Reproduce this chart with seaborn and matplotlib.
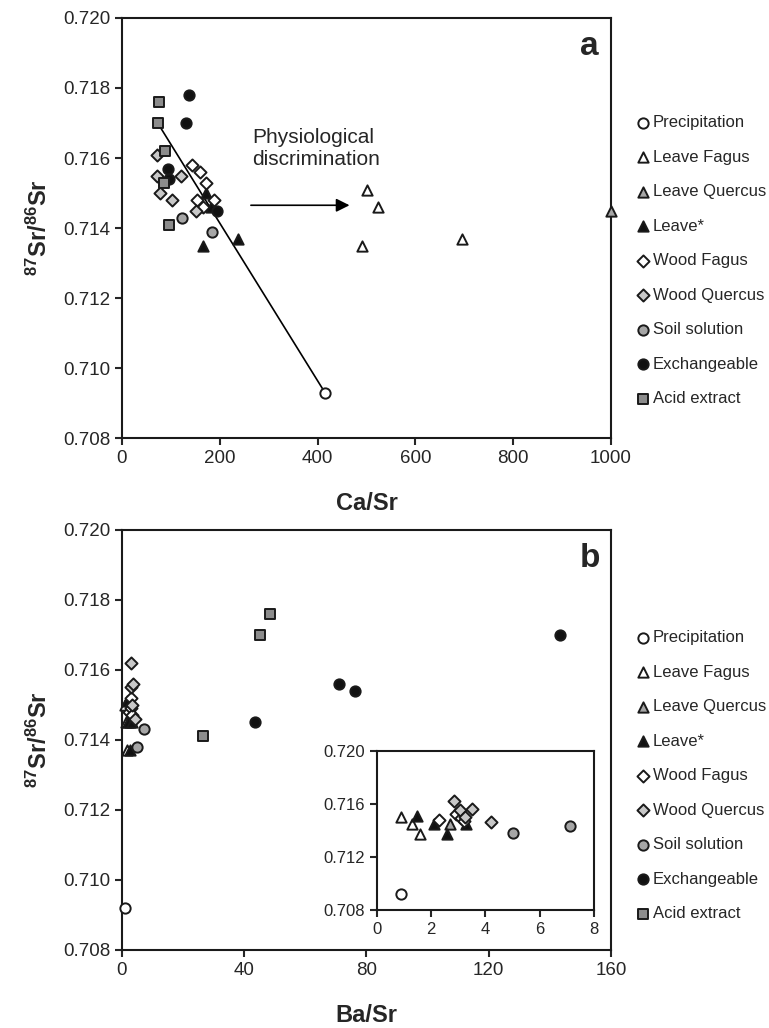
import numpy as np
import pandas as pd
import seaborn as sns
import matplotlib.pyplot as plt
import matplotlib.ticker as ticker

# ---------------- data ----------------
series_names = ["Precipitation", "Leave Fagus", "Leave Quercus", "Leave*",
                "Wood Fagus", "Wood Quercus", "Soil solution", "Exchangeable",
                "Acid extract"]

# panel a: Ca/Sr vs 87Sr/86Sr
a_precip_x = [415]
a_precip_y = [0.7093]
a_lfagus_x = [502, 523, 491, 696]
a_lfagus_y = [0.7151, 0.7146, 0.7135, 0.7137]
a_lquercus_x = [1000]
a_lquercus_y = [0.7145]
a_leaf_x = [171, 182, 166, 237]
a_leaf_y = [0.7150, 0.7146, 0.7135, 0.7137]
a_wfagus_x = [144, 160, 171, 153, 188, 166]
a_wfagus_y = [0.7158, 0.7156, 0.7153, 0.7148, 0.7148, 0.7146]
a_wquercus_x = [71, 71, 120, 78, 103, 151]
a_wquercus_y = [0.7161, 0.7155, 0.7155, 0.7150, 0.7148, 0.7145]
a_soil_x = [123, 185]
a_soil_y = [0.7143, 0.7139]
a_exch_x = [138, 131, 95, 97, 194]
a_exch_y = [0.7178, 0.7170, 0.7157, 0.7154, 0.7145]
a_acid_x = [75, 73, 88, 86, 96]
a_acid_y = [0.7176, 0.7170, 0.7162, 0.7153, 0.7141]

# mixing line between acid extract and precipitation
line_x = [73, 415]
line_y = [0.7170, 0.7093]

# panel b: Ba/Sr vs 87Sr/86Sr
b_precip_x = [0.9]
b_precip_y = [0.7092]
b_lfagus_x = [0.9, 1.3, 1.6]
b_lfagus_y = [0.7150, 0.7145, 0.7137]
b_lquercus_x = [2.7]
b_lquercus_y = [0.7145]
b_leaf_x = [1.5, 2.1, 2.6, 3.3]
b_leaf_y = [0.7151, 0.7145, 0.7137, 0.7145]
b_wfagus_x = [2.3, 2.9, 3.1, 3.2]
b_wfagus_y = [0.7148, 0.7152, 0.7149, 0.7147]
b_wquercus_x = [2.85, 3.05, 3.5, 3.25, 4.2]
b_wquercus_y = [0.7162, 0.7155, 0.7156, 0.7150, 0.7146]
b_soil_x = [7.1, 5.0]
b_soil_y = [0.7143, 0.7138]
b_exch_x = [143.2, 71.0, 76.4, 43.5]
b_exch_y = [0.7170, 0.7156, 0.7154, 0.7145]
b_acid_x = [48.4, 45.2, 26.5]
b_acid_y = [0.7176, 0.7170, 0.7141]

# ---------------- style ----------------
sns.set_style("ticks")
plt.rcParams['font.family'] = ['Liberation Sans', 'DejaVu Sans']
plt.rcParams['mathtext.fontset'] = 'custom'
plt.rcParams['mathtext.rm'] = 'Liberation Sans'
plt.rcParams['mathtext.bf'] = 'Liberation Sans:bold'
plt.rcParams['axes.linewidth'] = 1.5
plt.rcParams['xtick.major.width'] = 1.5
plt.rcParams['ytick.major.width'] = 1.5
plt.rcParams['xtick.major.size'] = 5
plt.rcParams['ytick.major.size'] = 5
plt.rcParams['xtick.direction'] = 'out'
plt.rcParams['ytick.direction'] = 'out'

EDGE = '#1a1a1a'
styles = {
    "Precipitation": dict(marker='o', color='white', s=55),
    "Leave Fagus": dict(marker='^', color='white', s=55),
    "Leave Quercus": dict(marker='^', color='#a6a6a6', s=55),
    "Leave*": dict(marker='^', color='#111111', s=55),
    "Wood Fagus": dict(marker='D', color='white', s=38),
    "Wood Quercus": dict(marker='D', color='#c8c8c8', s=38),
    "Soil solution": dict(marker='o', color='#a6a6a6', s=55),
    "Exchangeable": dict(marker='o', color='#111111', s=55),
    "Acid extract": dict(marker='s', color='#8c8c8c', s=48),
}

fig = plt.figure(figsize=(7.69, 10.28), dpi=100)
ax_a = fig.add_axes([0.1586, 0.5739, 0.6359, 0.4086])
ax_b = fig.add_axes([0.1586, 0.0759, 0.6359, 0.4086])
ax_in = fig.add_axes([0.4898, 0.1148, 0.2830, 0.1550])


def draw(ax, data, label=True):
    for name, (xs, ys) in zip(series_names, data):
        st = styles[name]
        sns.scatterplot(x=xs, y=ys, ax=ax, marker=st['marker'], color=st['color'],
                        s=st['s'], edgecolor=EDGE, linewidth=1.4,
                        label=name if label else None, clip_on=False, zorder=3)


data_a = [(a_precip_x, a_precip_y), (a_lfagus_x, a_lfagus_y),
          (a_lquercus_x, a_lquercus_y), (a_leaf_x, a_leaf_y),
          (a_wfagus_x, a_wfagus_y), (a_wquercus_x, a_wquercus_y),
          (a_soil_x, a_soil_y), (a_exch_x, a_exch_y), (a_acid_x, a_acid_y)]
data_b = [(b_precip_x, b_precip_y), (b_lfagus_x, b_lfagus_y),
          (b_lquercus_x, b_lquercus_y), (b_leaf_x, b_leaf_y),
          (b_wfagus_x, b_wfagus_y), (b_wquercus_x, b_wquercus_y),
          (b_soil_x, b_soil_y), (b_exch_x, b_exch_y), (b_acid_x, b_acid_y)]

# ---------------- panel a ----------------
sns.lineplot(x=line_x, y=line_y, ax=ax_a, color='black', linewidth=1.2, zorder=2)
draw(ax_a, data_a)
ax_a.set_xlim(0, 1000)
ax_a.set_ylim(0.708, 0.720)
ax_a.xaxis.set_major_locator(ticker.MultipleLocator(200))
ax_a.annotate("", xy=(471, 0.71465), xytext=(258, 0.71465),
              arrowprops=dict(arrowstyle='-|>', color='black', lw=1.2,
                              mutation_scale=20))
ax_a.text(267, 0.71568, "Physiological\ndiscrimination", fontsize=15,
          ha='left', va='bottom', linespacing=1.2)
ax_a.text(0.956, 0.933, "a", transform=ax_a.transAxes, fontsize=24,
          fontweight='bold', ha='center', va='center')
ax_a.set_xlabel("Ca/Sr", fontsize=17, fontweight='bold', labelpad=18)

# ---------------- panel b ----------------
draw(ax_b, data_b)
ax_b.set_xlim(0, 160)
ax_b.set_ylim(0.708, 0.720)
ax_b.xaxis.set_major_locator(ticker.MultipleLocator(40))
ax_b.text(0.956, 0.933, "b", transform=ax_b.transAxes, fontsize=24,
          fontweight='bold', ha='center', va='center')
ax_b.set_xlabel("Ba/Sr", fontsize=17, fontweight='bold', labelpad=18)

# inset
draw(ax_in, data_b, label=False)
ax_in.set_xlim(0, 8)
ax_in.set_ylim(0.708, 0.720)
ax_in.xaxis.set_major_locator(ticker.MultipleLocator(2))
ax_in.yaxis.set_major_locator(ticker.MultipleLocator(0.004))
ax_in.yaxis.set_major_formatter(ticker.FormatStrFormatter('%.3f'))
ax_in.tick_params(labelsize=12)

for ax, ly in ((ax_a, 0.422), (ax_b, 0.415)):
    ax.yaxis.set_major_locator(ticker.MultipleLocator(0.002))
    ax.yaxis.set_major_formatter(ticker.FormatStrFormatter('%.3f'))
    ax.tick_params(labelsize=13.5)
    ax.set_ylabel(r'$\mathbf{^{87}Sr/^{86}Sr}$', fontsize=17, labelpad=8)
    ax.legend(loc='center left', bbox_to_anchor=(1.048, ly), frameon=False,
              fontsize=12, handletextpad=0.1, handlelength=1.0,
              labelspacing=1.17, borderaxespad=0, borderpad=0, markerscale=1.0)

for ax in (ax_a, ax_b, ax_in):
    for sp in ax.spines.values():
        sp.set_visible(True)
        sp.set_color('#1a1a1a')

fig.savefig("out.png", dpi=100)
